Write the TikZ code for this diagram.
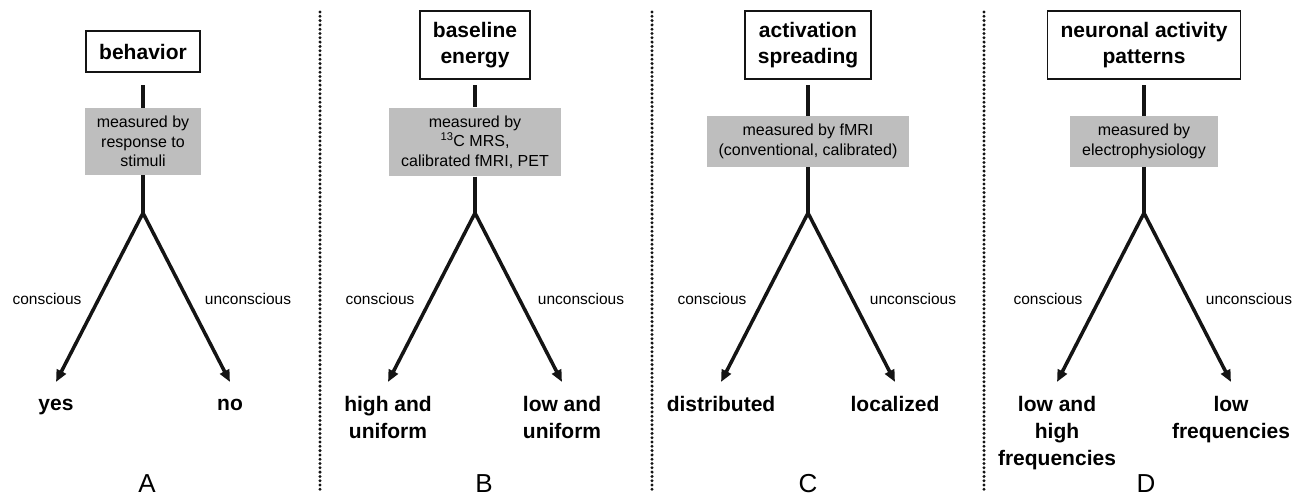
\documentclass[tikz,border=0pt]{standalone}
\usepackage{fontspec}
\setmainfont{Liberation Sans}
\usetikzlibrary{arrows.meta}
\definecolor{figcolor0001}{RGB}{190,190,190}
\definecolor{figcolor0002}{RGB}{20,20,20}

\begin{document}
\begin{tikzpicture}[yscale=-1
,pstyle0/.style={draw=figcolor0002,fill=white,line width=1.5pt,align=center,inner xsep=13pt,inner ysep=11pt,minimum height=41pt,font=\fontsize{21}{26}\selectfont\bfseries}
,pstyle1/.style={fill=figcolor0001,align=center,inner xsep=12pt,inner ysep=8pt,font=\fontsize{16}{19.5}\selectfont}
,pstyle2/.style={color=figcolor0002,line width=3.5pt}
,pstyle3/.style={color=figcolor0002,line width=3.5pt,-{Triangle[length=12pt,width=10pt]}}
,pstyle4/.style={color=black,inner sep=0pt,font=\fontsize{15.5}{18}\selectfont}
,pstyle5/.style={anchor=north,align=center,inner sep=0pt,color=black,font=\fontsize{21}{27}\selectfont\bfseries}
,pstyle6/.style={color=black,inner sep=0pt,font=\fontsize{26}{30}\selectfont}
,pstyle7/.style={color=figcolor0002,line width=3.3pt,line cap=round,dash pattern=on 0pt off 4.3pt}
]
\useasboundingbox (0pt,0pt) rectangle (1307pt,498pt);
% dividers
\draw[pstyle7] (320pt,12pt) -- (320pt,490pt);
\draw[pstyle7] (652pt,12pt) -- (652pt,490pt);
\draw[pstyle7] (984pt,12pt) -- (984pt,490pt);
% panel A
\node[pstyle0] (titleA) at (143pt,51.5pt) {behavior};
\node[pstyle1] (measA) at (143pt,141.5pt) {measured by\\response to\\stimuli};
\coordinate (topA) at (143pt,85pt);
\coordinate (forkA) at (143pt,213pt);
\coordinate (tipA1) at (56pt,382pt);
\coordinate (tipA2) at (230pt,382pt);
\draw[pstyle2] (topA) -- (measA.north);
\draw[pstyle2] (measA.south) -- (forkA);
\draw[pstyle3] (forkA) -- (tipA1);
\draw[pstyle3] (forkA) -- (tipA2);
\node[pstyle4] (consA) at (47pt,299pt) {conscious};
\node[pstyle4] (unconsA) at (248pt,299pt) {unconscious};
\node[pstyle5] (yesA) at (56pt,399pt) {yes};
\node[pstyle5] (noA) at (230pt,399pt) {no};
\node[pstyle6] (letterA) at (147pt,484pt) {A};
% panel B
\node[pstyle0] (titleB) at (475pt,45pt) {baseline\\energy};
\node[pstyle1] (measB) at (475pt,142pt) {measured by\\\textsuperscript{13}C MRS,\\calibrated fMRI, PET};
\coordinate (topB) at (475pt,85pt);
\coordinate (forkB) at (475pt,213pt);
\coordinate (tipB1) at (388pt,382pt);
\coordinate (tipB2) at (562pt,382pt);
\draw[pstyle2] (topB) -- (measB.north);
\draw[pstyle2] (measB.south) -- (forkB);
\draw[pstyle3] (forkB) -- (tipB1);
\draw[pstyle3] (forkB) -- (tipB2);
\node[pstyle4] (consB) at (380pt,299pt) {conscious};
\node[pstyle4] (unconsB) at (581pt,299pt) {unconscious};
\node[pstyle5] (highB) at (388pt,396pt) {high and\\uniform};
\node[pstyle5] (lowB) at (562pt,396pt) {low and\\uniform};
\node[pstyle6] (letterB) at (484pt,484pt) {B};
% panel C
\node[pstyle0] (titleC) at (808pt,45pt) {activation\\spreading};
\node[pstyle1] (measC) at (808pt,141.5pt) {measured by fMRI\\(conventional, calibrated)};
\coordinate (topC) at (808pt,85pt);
\coordinate (forkC) at (808pt,213pt);
\coordinate (tipC1) at (721pt,382pt);
\coordinate (tipC2) at (895pt,382pt);
\draw[pstyle2] (topC) -- (measC.north);
\draw[pstyle2] (measC.south) -- (forkC);
\draw[pstyle3] (forkC) -- (tipC1);
\draw[pstyle3] (forkC) -- (tipC2);
\node[pstyle4] (consC) at (712pt,299pt) {conscious};
\node[pstyle4] (unconsC) at (913pt,299pt) {unconscious};
\node[pstyle5] (distC) at (721pt,396pt) {distributed};
\node[pstyle5] (locC) at (895pt,396pt) {localized};
\node[pstyle6] (letterC) at (808pt,484pt) {C};
% panel D
\node[pstyle0] (titleD) at (1144pt,45pt) {neuronal activity\\patterns};
\node[pstyle1] (measD) at (1144pt,141.5pt) {measured by\\electrophysiology};
\coordinate (topD) at (1144pt,85pt);
\coordinate (forkD) at (1144pt,213pt);
\coordinate (tipD1) at (1057pt,382pt);
\coordinate (tipD2) at (1231pt,382pt);
\draw[pstyle2] (topD) -- (measD.north);
\draw[pstyle2] (measD.south) -- (forkD);
\draw[pstyle3] (forkD) -- (tipD1);
\draw[pstyle3] (forkD) -- (tipD2);
\node[pstyle4] (consD) at (1048pt,299pt) {conscious};
\node[pstyle4] (unconsD) at (1249pt,299pt) {unconscious};
\node[pstyle5] (lowhighD) at (1057pt,396pt) {low and\\high\\frequencies};
\node[pstyle5] (lowD) at (1231pt,396pt) {low\\frequencies};
\node[pstyle6] (letterD) at (1146pt,484pt) {D};
\end{tikzpicture}
\end{document}
